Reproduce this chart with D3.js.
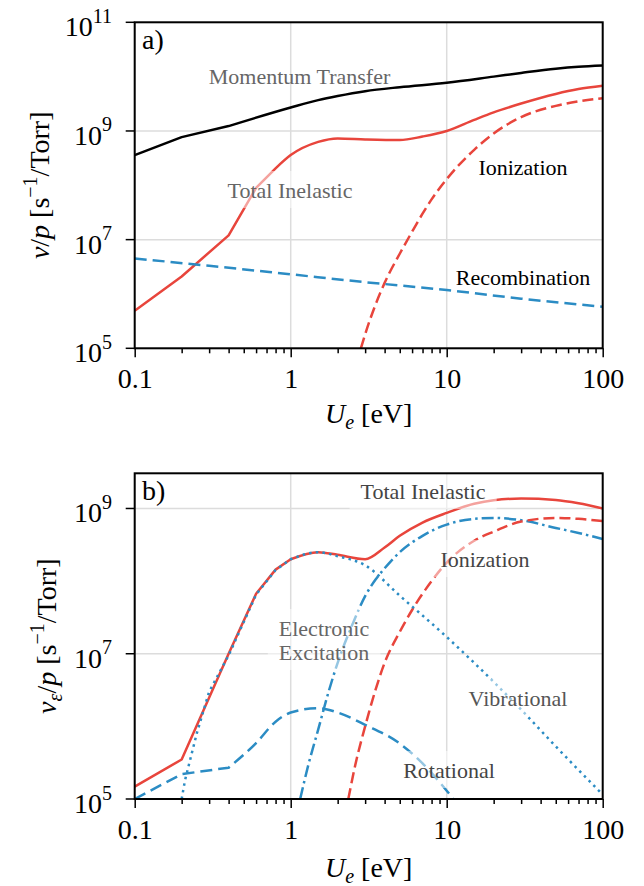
<!DOCTYPE html>
<html><head><meta charset="utf-8">
<script src="https://cdn.jsdelivr.net/npm/d3@7"></script>
<style>
body{margin:0;background:#fff}
svg{display:block}
text{font-family:"Liberation Serif","Times New Roman",Times,serif}
</style>
</head><body>
<svg id="c" width="644" height="886"></svg>
<script>
// ---------- data ----------
const xTickValues = [0.1, 1, 10, 100];
const xTickLabels = ["0.1", "1", "10", "100"];
const yTicksA = [1e5, 1e7, 1e9, 1e11];
const yTickExpA = ["5", "7", "9", "11"];
const yTicksB = [1e5, 1e7, 1e9];
const yTickExpB = ["5", "7", "9"];

// Panel a
const aMomX = [0.1, 0.2, 0.4, 1, 1.5, 2, 3, 5, 10, 20, 30, 50, 70, 100];
const aMomY = [3.6e8, 7.7e8, 1.23e9, 2.7e9, 3.7e9, 4.4e9, 5.4e9, 6.4e9, 7.7e9, 1.0e10, 1.17e10, 1.4e10, 1.52e10, 1.6e10];
const aTotX = [0.1, 0.2, 0.4, 0.6, 0.8, 1, 1.5, 2, 3, 5, 7, 10, 15, 20, 30, 50, 70, 100];
const aTotY = [4.9e5, 2.1e6, 1.2e7, 9.0e7, 2.05e8, 3.6e8, 6.3e8, 7.3e8, 7.0e8, 6.8e8, 7.9e8, 1.0e9, 1.6e9, 2.2e9, 3.2e9, 4.8e9, 5.9e9, 6.8e9];
const aIonX = [2.82, 3, 4, 5, 6, 7, 8, 10, 15, 20, 30, 50, 70, 100];
const aIonY = [1e5, 1.8e5, 1.6e6, 5.5e6, 1.4e7, 3.0e7, 5.5e7, 1.3e8, 4.5e8, 9.0e8, 1.8e9, 2.9e9, 3.5e9, 4.0e9];
const aRecX = [0.1, 0.3, 1, 3, 10, 30, 100];
const aRecY = [4.5e6, 3.3e6, 2.3e6, 1.65e6, 1.18e6, 8.2e5, 5.8e5];

// Panel b
const bTotX = [0.1, 0.2, 0.4, 0.6, 0.8, 1, 1.5, 2, 3, 4, 5, 7, 10, 15, 20, 30, 50, 70, 100];
const bTotY = [1.48e5, 3.5e5, 1.0e7, 6.7e7, 1.44e8, 2.0e8, 2.5e8, 2.3e8, 2.0e8, 2.9e8, 4.2e8, 6.4e8, 8.7e8, 1.16e9, 1.3e9, 1.37e9, 1.31e9, 1.18e9, 1.0e9];
const bVibX = [0.2, 0.21, 0.25, 0.3, 0.4, 0.6, 0.8, 1, 1.5, 2, 3, 5, 10, 20, 30, 50, 100];
const bVibY = [1.0e5, 1.8e5, 8e5, 3e6, 9.5e6, 6.5e7, 1.42e8, 2.0e8, 2.5e8, 2.2e8, 1.65e8, 6.3e7, 1.7e7, 4.1e6, 1.7e6, 5.3e5, 1.15e5];
const bRotX = [0.1, 0.2, 0.4, 0.6, 0.8, 1, 1.5, 2, 3, 5, 7, 10, 11.5];
const bRotY = [1.0e5, 2.2e5, 2.7e5, 5.9e5, 1.16e6, 1.55e6, 1.78e6, 1.55e6, 1.05e6, 5.8e5, 3.1e5, 1.3e5, 9e4];
const bEleX = [1.15, 1.3, 1.5, 1.75, 2, 2.5, 3, 3.5, 4, 5, 7, 10, 15, 20, 30, 50, 70, 100];
const bEleY = [1e5, 3e5, 9e5, 3e6, 7.5e6, 2.6e7, 6.2e7, 1.05e8, 1.5e8, 2.5e8, 4.2e8, 6.0e8, 7.2e8, 7.4e8, 6.9e8, 5.4e8, 4.6e8, 3.8e8];
const bIonX = [2.34, 2.6, 3, 3.5, 4, 5, 6, 8, 10, 15, 20, 30, 50, 70, 100];
const bIonY = [1e5, 3e5, 1.0e6, 3.2e6, 7.5e6, 2.0e7, 4.0e7, 1.0e8, 1.8e8, 3.6e8, 4.8e8, 6.6e8, 7.4e8, 7.2e8, 6.7e8];

// ---------- drawing ----------
const RED = "#e8453c", BLUE = "#2b8cc4";
const svg = d3.select("#c");
const L = 134.7, R = 602.7;
const x = d3.scaleLog().domain([0.1, 100]).range([L, R]);

function zip(xs, ys){ return xs.map((v,i)=>[v, ys[i]]); }

function panel(cfg){
  const y = d3.scaleLog().domain([1e5, cfg.ymax]).range([cfg.bottom, cfg.top]);
  const g = svg.append("g");
  const clipId = "clip" + cfg.id;
  svg.append("clipPath").attr("id", clipId).append("rect")
    .attr("x", L).attr("y", cfg.top).attr("width", R-L).attr("height", cfg.bottom-cfg.top);

  // grid
  const grid = g.append("g").attr("stroke", "#dcdcdc").attr("stroke-width", 1.5);
  xTickValues.forEach(v => grid.append("line").attr("x1", x(v)).attr("x2", x(v)).attr("y1", cfg.top).attr("y2", cfg.bottom));
  cfg.yticks.forEach(v => grid.append("line").attr("x1", L).attr("x2", R).attr("y1", y(v)).attr("y2", y(v)));

  // lines: straight segments at low energy, smooth afterwards
  const linGen = d3.line().x(d=>x(d[0])).y(d=>y(d[1])).curve(d3.curveLinear);
  const monoGen = d3.line().x(d=>x(d[0])).y(d=>y(d[1])).curve(d3.curveMonotoneX);
  const lg = g.append("g").attr("clip-path", `url(#${clipId})`).attr("fill", "none");
  cfg.series.forEach(s => {
    const pts = zip(s.x, s.y);
    let d;
    if (s.lin) {
      const a = pts.filter(p => p[0] <= s.lin), b = pts.filter(p => p[0] >= s.lin);
      d = linGen(a) + (b.length > 1 ? monoGen(b).replace(/^M/, "L") : "");
    } else d = monoGen(pts);
    lg.append("path").attr("d", d)
      .attr("stroke", s.color).attr("stroke-width", s.w || 2.5)
      .attr("stroke-dasharray", s.dash || null)
      .attr("stroke-linecap", "butt").attr("stroke-linejoin", "round");
  });

  // annotations
  cfg.labels.forEach(lb => {
    const lines = lb.text.split("\n");
    const t = g.append("text").attr("font-size", 22).attr("fill", lb.color).attr("text-anchor", "middle");
    lines.forEach((ln, i) => t.append("tspan").attr("x", lb.x).attr("y", lb.y + i*24).text(ln));
    if (lb.box) {
      const bb = t.node().getBBox();
      g.insert("rect", () => t.node())
        .attr("x", bb.x - 11).attr("y", bb.y - 7).attr("width", bb.width + 22).attr("height", bb.height + 12)
        .attr("fill", "#fff").attr("fill-opacity", 0.5);
    }
  });

  // panel tag
  g.append("text").attr("x", 142).attr("y", cfg.top + 27).attr("font-size", 28).text(cfg.tag);

  // x axis
  const xa = d3.axisBottom(x).tickValues(xTickValues).tickFormat((d,i)=>xTickLabels[i]).tickSize(9).tickPadding(5);
  const xg = g.append("g").attr("transform", `translate(0,${cfg.bottom})`).call(xa);
  const minor = [];
  [0.1, 1, 10].forEach(dec => { for (let k = 2; k <= 9; k++) minor.push(dec*k); });
  const xm = d3.axisBottom(x).tickValues(minor).tickFormat("").tickSize(5);
  const xmg = g.append("g").attr("transform", `translate(0,${cfg.bottom})`).call(xm);
  [xg, xmg].forEach(a => { a.select(".domain").remove(); a.attr("font-family", null); a.selectAll("line").attr("stroke", "#000").attr("stroke-width", 1.5); });
  xg.selectAll("text").attr("font-size", 28).attr("fill", "#000").attr("dy", null).attr("y", 40);

  // y axis
  const yg = g.append("g");
  cfg.yticks.forEach((v, i) => {
    yg.append("line").attr("x1", L - 9).attr("x2", L).attr("y1", y(v)).attr("y2", y(v)).attr("stroke", "#000").attr("stroke-width", 1.5);
    const t = yg.append("text").attr("x", 112).attr("y", y(v) + 14).attr("text-anchor", "end").attr("font-size", 28);
    t.append("tspan").text("10");
    t.append("tspan").attr("font-size", 20).attr("dy", -13.5).text(cfg.yexp[i]);
  });

  // frame
  g.append("rect").attr("x", L).attr("y", cfg.top).attr("width", R-L).attr("height", cfg.bottom-cfg.top)
    .attr("fill", "none").attr("stroke", "#000").attr("stroke-width", 2);

  // x label
  const xl = g.append("text").attr("x", (L+R)/2).attr("y", cfg.bottom + cfg.xlabelDy).attr("text-anchor", "middle").attr("font-size", 28);
  xl.append("tspan").attr("font-style", "italic").text("U");
  xl.append("tspan").attr("font-style", "italic").attr("font-size", 20).attr("dy", 6).text("e");
  xl.append("tspan").attr("dy", -6).text(" [eV]");

  // y label
  const cy = (cfg.top + cfg.bottom)/2;
  const yl = g.append("text").attr("transform", `translate(${cfg.ylabelX},${cy}) rotate(-90)`)
    .attr("text-anchor", "middle").attr("font-size", 28);
  yl.append("tspan").attr("font-style", "italic").text("ν");
  if (cfg.nuSub) {
    yl.append("tspan").attr("font-style", "italic").attr("font-size", 20).attr("dy", 6).text(cfg.nuSub);
    yl.append("tspan").attr("dy", -6).text("/");
  } else {
    yl.append("tspan").text("/");
  }
  yl.append("tspan").attr("font-style", "italic").text("p");
  yl.append("tspan").text(" [s");
  yl.append("tspan").attr("font-size", 20).attr("dy", -12).text("−1");
  yl.append("tspan").attr("dy", 12).text("/Torr]");
}

panel({
  id: "a", top: 22.3, bottom: 348.3, ymax: 1e11, yticks: yTicksA, yexp: yTickExpA, tag: "a)", ylabelX: 49, xlabelDy: 75,
  series: [
    {x: aMomX, y: aMomY, color: "#000", lin: 0.4},
    {x: aTotX, y: aTotY, color: RED, lin: 0.8},
    {x: aIonX, y: aIonY, color: RED, dash: "11,5"},
    {x: aRecX, y: aRecY, color: BLUE, dash: "12,6"}
  ],
  labels: [
    {text: "Momentum Transfer", x: 299.5, y: 84, color: "#666"},
    {text: "Total Inelastic", x: 290, y: 198, color: "#666", box: true},
    {text: "Ionization", x: 523, y: 175, color: "#000"},
    {text: "Recombination", x: 523, y: 285, color: "#000"}
  ]
});

panel({
  id: "b", top: 473.3, bottom: 799, ymax: 3.05e9, yticks: yTicksB, yexp: yTickExpB, tag: "b)", ylabelX: 56, nuSub: "ε", xlabelDy: 78,
  series: [
    {x: bRotX, y: bRotY, color: BLUE, dash: "12,6", lin: 0.4},
    {x: bEleX, y: bEleY, color: BLUE, dash: "12,4,2.5,4"},
    {x: bIonX, y: bIonY, color: RED, dash: "11,5"},
    {x: bTotX, y: bTotY, color: RED, lin: 1},
    {x: bVibX, y: bVibY, color: BLUE, dash: "2.5,4.2", lin: 1}
  ],
  labels: [
    {text: "Total Inelastic", x: 423, y: 499, color: "#444", box: true},
    {text: "Ionization", x: 485, y: 567, color: "#444", box: true},
    {text: "Electronic\nExcitation", x: 324, y: 636, color: "#666", box: true},
    {text: "Vibrational", x: 518, y: 706, color: "#555", box: true},
    {text: "Rotational", x: 449, y: 778, color: "#444", box: true}
  ]
});
</script>
</body></html>
